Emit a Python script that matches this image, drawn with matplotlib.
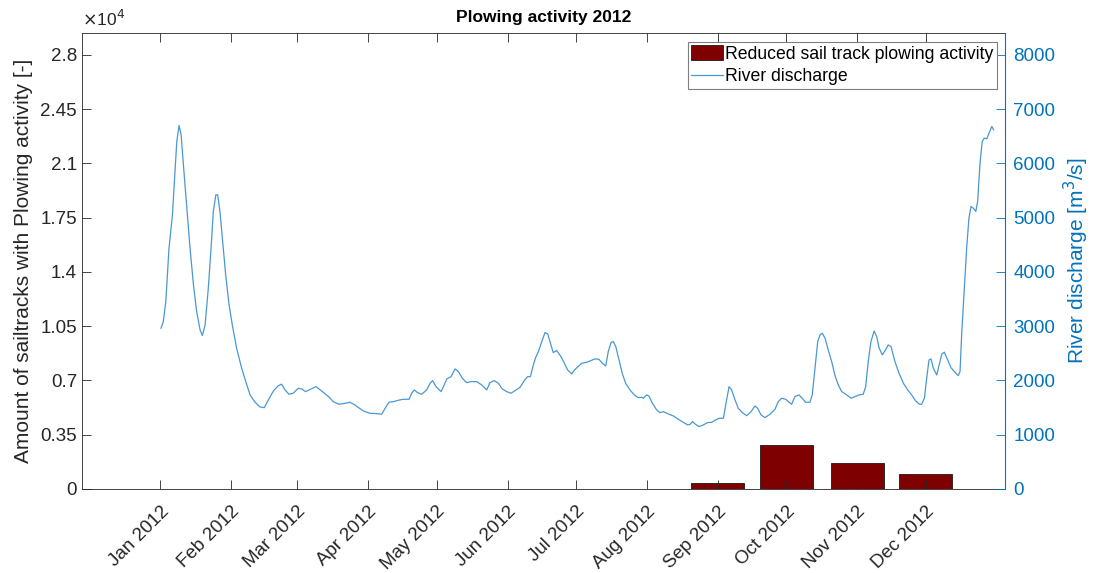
import numpy as np
import matplotlib
matplotlib.use("Agg")
import matplotlib.pyplot as plt
import matplotlib.dates as mdates
from matplotlib.ticker import FixedLocator, FixedFormatter
from matplotlib.transforms import ScaledTranslation
from datetime import datetime

plt.rcParams['font.family'] = ['Liberation Sans', 'DejaVu Sans']

# ---- data -------------------------------------------------------------
month_labels = ['Jan 2012', 'Feb 2012', 'Mar 2012', 'Apr 2012', 'May 2012',
                'Jun 2012', 'Jul 2012', 'Aug 2012', 'Sep 2012', 'Oct 2012',
                'Nov 2012', 'Dec 2012']
plow_counts = [0, 0, 0, 0, 0, 0, 0, 0, 370, 2840, 1660, 970]

left_ticks = [0, 3500, 7000, 10500, 14000, 17500, 21000, 24500, 28000]
left_tick_labels = ['0', '0.35', '0.7', '1.05', '1.4', '1.75', '2.1', '2.45', '2.8']
right_ticks = [0, 1000, 2000, 3000, 4000, 5000, 6000, 7000, 8000]

# days since 1 Jan 2012
discharge_day = [
    0.3, 1.3, 2.4, 3.8, 5.3, 6.4, 7.2, 8.2, 9.1, 10.1, 11.6, 13.0, 14.5, 15.9,
    17.4, 18.4, 19.6, 21.0, 22.2, 23.2, 24.3, 25.1, 26.1, 27.3, 28.6, 30.1,
    31.5, 33.4, 35.6, 37.4, 39.3, 41.5, 43.6, 45.5, 47.3, 49.5, 51.7, 53.1,
    54.6, 56.3, 58.2, 60.4, 61.9, 63.6, 66.0, 68.2, 70.6, 73.7, 75.7, 78.2,
    80.9, 83.0, 85.2, 88.2,
    89.6, 91.8, 94.7, 96.9, 98.4, 100.1, 102.0, 104.2, 106.4, 108.9, 110.0,
    111.2, 112.6, 114.4, 116.6, 118.1, 119.2, 120.7, 122.9, 124.3, 125.4,
    127.3, 129.0, 130.5, 132.2, 134.1, 136.0, 138.5, 140.7, 142.9, 144.3,
    146.2, 148.0, 149.7, 151.6, 153.5, 155.3, 157.5, 159.3, 160.8, 162.0,
    163.3, 164.3, 165.5, 167.0, 168.4, 169.6, 170.6, 172.0, 173.5, 175.4,
    176.9, 178.3, 180.1, 181.5,
    183.0, 184.5, 186.7, 188.5, 190.3, 192.0, 193.5, 195.0, 196.1, 197.3,
    198.3, 199.4, 200.8, 202.2, 203.7, 205.6, 207.5, 209.2, 210.7, 211.4,
    212.9, 213.9, 215.4, 217.3, 218.7, 220.2, 222.4, 224.6, 226.8, 228.9,
    230.9, 231.9, 233.0, 234.1, 235.8, 237.7, 239.6, 241.4, 243.1, 244.6,
    246.5, 247.9, 249.0, 250.1, 251.6, 253.0, 254.8, 256.7, 258.6, 260.3,
    261.5, 263.0, 264.7, 266.9, 269.1, 270.5, 272.0, 273.8,
    274.9, 276.4, 277.8, 279.6, 281.0, 282.5, 284.4, 285.4, 286.6, 287.8,
    288.8, 289.8, 291.0, 292.4, 293.9, 295.3, 296.8, 298.3, 300.5, 302.4,
    304.1, 305.9, 307.7, 308.8, 309.9, 311.1, 312.5, 313.6, 314.7, 316.1,
    317.2, 318.7, 319.9, 321.6, 323.4, 325.3, 327.2, 328.9, 330.7, 332.3,
    333.3, 334.5, 335.5, 336.5, 337.4, 338.4, 339.9, 340.9, 342.1, 343.2,
    344.7, 346.1, 347.9, 349.3, 350.1, 350.8, 352.0, 353.0, 354.0, 354.9,
    355.9, 357.0, 357.8, 358.8, 359.8, 360.7, 361.8, 362.8, 364.0, 364.8,
]
discharge_m3s = [
    2962, 3084, 3453, 4437, 5051, 5849, 6402, 6697, 6525, 5972, 5174, 4437, 3760, 3268,
    2931, 2826, 3023, 3699, 4437, 5112, 5419, 5419, 5112, 4559, 3945, 3392,
    3023, 2594, 2225, 1978, 1733, 1598, 1511, 1499, 1641, 1806, 1905, 1930,
    1825, 1745, 1764, 1856, 1843, 1794, 1843, 1886, 1806, 1701, 1609, 1561,
    1579, 1598, 1548, 1456,
    1425, 1395, 1388, 1377, 1487, 1598, 1609, 1635, 1653, 1653, 1764,
    1825, 1775, 1745, 1825, 1948, 1996, 1886, 1794, 1917, 2028,
    2070, 2212, 2163, 2040, 1960, 1978, 1978, 1917, 1825, 1960,
    1996, 1948, 1843, 1794, 1764, 1812, 1874, 1996, 2070, 2070,
    2286, 2420, 2531, 2716, 2882, 2857, 2716, 2513, 2550, 2439,
    2317, 2194, 2120, 2200,
    2260, 2317, 2335, 2365, 2396, 2390, 2317, 2267, 2531, 2697,
    2716, 2623, 2378, 2133, 1948, 1825, 1733, 1683, 1690, 1672,
    1733, 1714, 1580, 1456, 1407, 1425, 1382, 1346, 1284, 1229,
    1180, 1192, 1241, 1198, 1149, 1180, 1223, 1229, 1272, 1303,
    1303, 1641, 1886, 1825, 1641, 1487, 1407, 1351, 1425, 1530,
    1487, 1364, 1315, 1377, 1469, 1609, 1672, 1653,
    1609, 1561, 1701, 1733, 1672, 1598, 1598, 1733, 2225, 2716,
    2839, 2870, 2778, 2562, 2347, 2101, 1917, 1794, 1733, 1672,
    1701, 1733, 1745, 1886, 2347, 2716, 2912, 2808, 2594, 2470,
    2544, 2654, 2623, 2347, 2133, 1948, 1825, 1733, 1622, 1561,
    1561, 1672, 2040, 2378, 2396, 2225, 2101, 2273, 2483, 2520,
    2378, 2236, 2150, 2089, 2163, 2839, 3699, 4437, 4990, 5204,
    5174, 5112, 5296, 5972, 6402, 6464, 6452, 6557, 6679, 6617,
]

# ---- styling ----------------------------------------------------------
AX_GRAY = '#262626'
BLUE = '#0072BD'
LINE_BLUE = '#4a98d0'
BAR_RED = '#7F0000'
FS = 13.5
LABEL_FS = 15

fig = plt.figure(figsize=(10.99, 5.73), dpi=100)
ax = fig.add_axes([0.0746, 0.1466, 0.8399, 0.7958])
ax2 = ax.twinx()

t0 = mdates.date2num(datetime(2012, 1, 1))
month_pos = [mdates.date2num(datetime(2012, m, 1)) for m in range(1, 13)]

# bars on the left axis
ax.bar(month_pos, plow_counts, width=23.2, color=BAR_RED,
       edgecolor='black', linewidth=0.5, zorder=1,
       label='Reduced sail track plowing activity')
ax.set_ylim(0, 29400)
ax.yaxis.set_major_locator(FixedLocator(left_ticks))
ax.yaxis.set_major_formatter(FixedFormatter(left_tick_labels))
ax.set_ylabel('Amount of sailtracks with Plowing activity [-]',
              fontsize=LABEL_FS, color=AX_GRAY)
ax.yaxis.set_label_coords(-0.053, 0.5)
ax.text(0.0, 1.008, r'$\times$10$^4$', transform=ax.transAxes,
        fontsize=12.5, color=AX_GRAY, ha='left', va='bottom')

# discharge line on the right axis
x_line = t0 + np.asarray(discharge_day)
ax2.plot(x_line, discharge_m3s, color=LINE_BLUE, linewidth=0.9,
         label='River discharge')
ax2.set_ylim(0, 8400)
ax2.set_yticks(right_ticks)
ax2.set_ylabel('River discharge [m$^3$/s]', fontsize=LABEL_FS, color=BLUE)
ax2.yaxis.set_label_coords(1.0615, 0.5)

ax.set_xlim(t0 - 34.3, t0 + 369.8)
ax.set_xticks(month_pos)
ax.set_xticklabels(month_labels, rotation=45, ha='right', va='top',
                   rotation_mode='anchor')
shift = ScaledTranslation(0.04, 0, fig.dpi_scale_trans)
for lab in ax.get_xticklabels():
    lab.set_transform(lab.get_transform() + shift)

ax.tick_params(axis='both', direction='in', length=6.5, width=0.6,
               labelsize=FS, colors=AX_GRAY, top=True)
ax.tick_params(axis='x', pad=10)
ax2.tick_params(axis='y', direction='in', length=6.5, width=0.6,
                labelsize=FS, colors=BLUE, pad=6)

for side in ['left', 'bottom', 'top']:
    ax.spines[side].set_color(AX_GRAY)
    ax.spines[side].set_linewidth(0.6)
ax.spines['right'].set_visible(False)
for side in ['left', 'bottom', 'top']:
    ax2.spines[side].set_visible(False)
ax2.spines['right'].set_color(BLUE)
ax2.spines['right'].set_linewidth(0.8)

ax.set_title('Plowing activity 2012', fontsize=12.5, fontweight='bold',
             color='black', pad=8)

h1, l1 = ax.get_legend_handles_labels()
h2, l2 = ax2.get_legend_handles_labels()
leg = ax2.legend(h1 + h2, l1 + l2, loc='upper right',
                 bbox_to_anchor=(0.991, 0.981), borderaxespad=0,
                 fontsize=12.7, frameon=True, fancybox=False, framealpha=1,
                 edgecolor='#7f7f7f', handlelength=1.8, handleheight=0.95,
                 handletextpad=0.1, labelspacing=0.28, borderpad=0.2)
leg.get_frame().set_linewidth(0.8)

fig.savefig('out.png', dpi=100)
